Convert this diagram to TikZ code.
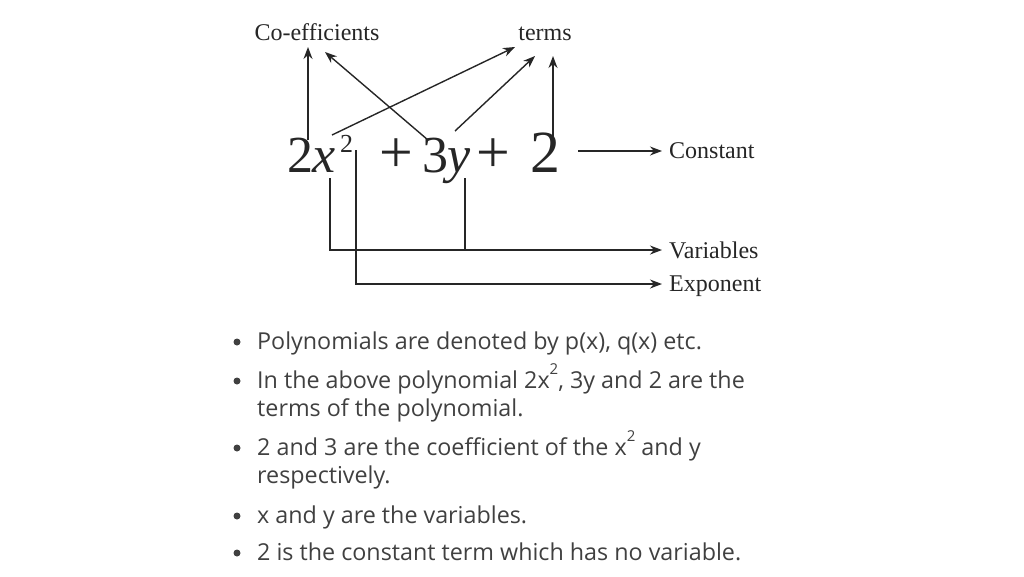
\documentclass[tikz,border=0pt]{standalone}
\usetikzlibrary{arrows.meta}
\usepackage{fontspec}
\setsansfont{Open Sans}
\newfontfamily\lab{Liberation Serif}
\begin{document}
\begin{tikzpicture}[x=1pt,y=-1pt,
  lbl/.style={font=\lab\fontsize{24}{26}\selectfont,text=black!85,inner sep=0pt,anchor=base west},
  eqt/.style={font=\lab\fontsize{52}{52}\selectfont,text=black!85,inner sep=0pt,anchor=base west},
  ar/.style={-{Stealth[length=12pt,width=9pt]},line width=1.4pt,black!85},
  ln/.style={line width=1.4pt,black!85},
  bul/.style={font=\sffamily\fontsize{23.3}{28}\selectfont,text=black!75,anchor=base west,inner sep=0pt},
  dot/.style={circle,fill=black!75,inner sep=0pt,minimum size=7pt}]
\useasboundingbox (0,0) rectangle (1024,576);
\node[lbl,anchor=base] (coef) at (317,40) {Co-efficients};
\node[lbl,anchor=base] (terms) at (545,40) {terms};
\node[lbl] (const) at (669,158) {Constant};
\node[lbl] (var) at (669,258) {Variables};
\node[lbl] (exp) at (669,291) {Exponent};
\node[eqt] (e1) at (287,172) {2};
\node[eqt] (e2) at (312,172) {\textit{x}};
\node[eqt,font=\lab\fontsize{26}{26}\selectfont] (e3) at (340,152) {2};
\node[eqt] (e4) at (379,172) {\scalebox{1.15}{+}};
\node[eqt] (e5) at (422,172) {3};
\node[eqt] (e6) at (447,172) {\textit{y}};
\node[eqt] (e7) at (476,172) {\scalebox{1.15}{+}};
\node[eqt] (e8) at (530,172) {\scalebox{1.15}{2}};
\coordinate (c2) at (308,140);
\coordinate (x2) at (332,135);
\coordinate (c3) at (428,140);
\coordinate (y3) at (455,131);
\coordinate (k2) at (553,137);
\coordinate (ke) at (578,151);
\coordinate (xv) at (330,178);
\coordinate (yv) at (465,178);
\coordinate (ex) at (356,150);
\coordinate (jv) at (330,250);
\coordinate (jy) at (465,250);
\coordinate (je) at (356,284);
\draw[ar] (c2) -- (308,47);
\draw[ar] (c3) -- (325,52);
\draw[ar] (x2) -- (515,47);
\draw[ar] (y3) -- (535,56);
\draw[ar] (k2) -- (553,56);
\draw[ar] (ke) -- (662,151);
\draw[ar] (xv) -- (jv) -- (662,250);
\draw[ln] (yv) -- (jy);
\draw[ar] (ex) -- (je) -- (662,284);
\foreach \i/\y in {1/342,2/381,3/448,4/516,5/553}{\node[dot] (d\i) at (237,\y) {};}
\node[bul] (b1) at (257,349) {Polynomials are denoted by p(x), q(x) etc.};
\node[bul] (b2) at (257,388) {In the above polynomial 2x\raisebox{14pt}{\fontsize{15}{15}\selectfont 2}, 3y and 2 are the};
\node[bul] (b2b) at (257,416) {terms of the polynomial.};
\node[bul] (b3) at (257,455) {2 and 3 are the coefficient of the x\raisebox{14pt}{\fontsize{15}{15}\selectfont 2} and y};
\node[bul] (b3b) at (257,483) {respectively.};
\node[bul] (b4) at (257,523) {x and y are the variables.};
\node[bul] (b5) at (257,560) {2 is the constant term which has no variable.};
\end{tikzpicture}
\end{document}
